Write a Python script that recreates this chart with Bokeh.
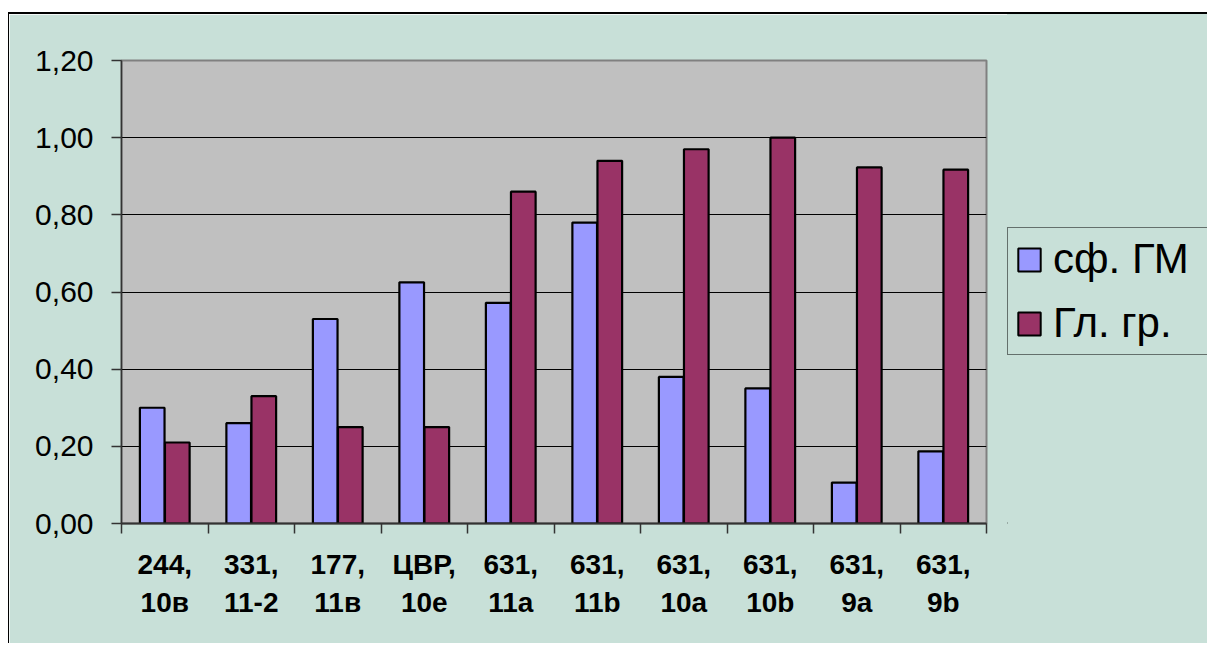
from bokeh.plotting import figure
from bokeh.layouts import row
from bokeh.models import (ColumnDataSource, FixedTicker, CustomJSTickFormatter,
                          Legend, LegendItem, Range1d)
from bokeh.transform import dodge
from bokeh.embed import file_html
from bokeh.resources import INLINE

# ---- data ----
categories = ["244,\n10в", "331,\n11-2", "177,\n11в", "ЦВР,\n10е", "631,\n11a",
              "631,\n11b", "631,\n10a", "631,\n10b", "631,\n9a", "631,\n9b"]
sf_gm = [0.30, 0.26, 0.53, 0.625, 0.572, 0.78, 0.38, 0.35, 0.106, 0.187]
gl_gr = [0.21, 0.33, 0.25, 0.25, 0.86, 0.94, 0.97, 1.00, 0.923, 0.917]
series_names = ["сф. ГМ", "Гл. гр."]
y_ticks = [0.0, 0.2, 0.4, 0.6, 0.8, 1.0, 1.2]

FONT = "Liberation Sans"
BG = "#C8E0D8"
C1 = "#9999FF"
C2 = "#993366"

n = len(categories)
xc = [i + 0.5 for i in range(n)]
src = ColumnDataSource(dict(x=xc, a=sf_gm, b=gl_gr))

# ---- main chart ----
p = figure(width=999, height=631, output_backend="svg", toolbar_location=None,
           x_range=Range1d(0, n), y_range=Range1d(0, 1.2),
           min_border_left=112, min_border_right=22,
           min_border_top=46, min_border_bottom=122)
p.margin = (12, 0, 0, 8)
p.styles = {"border-left": "1px solid black", "border-top": "2px solid black"}

p.background_fill_color = "#C0C0C0"
p.border_fill_color = BG
p.outline_line_color = "#808080"
p.outline_line_width = 2

p.vbar(x=dodge("x", -0.145, range=p.x_range), top="a", width=0.285, source=src,
       fill_color=C1, line_color="black", line_width=2.2)
p.vbar(x=dodge("x", 0.145, range=p.x_range), top="b", width=0.285, source=src,
       fill_color=C2, line_color="black", line_width=2.2)

p.xgrid.visible = False
p.ygrid.ticker = FixedTicker(ticks=y_ticks)
p.ygrid.grid_line_color = "black"
p.ygrid.grid_line_width = 1

ya = p.yaxis[0]
ya.ticker = FixedTicker(ticks=y_ticks)
ya.formatter = CustomJSTickFormatter(code="return tick.toFixed(2).replace('.', ',');")
ya.major_tick_out = 10
ya.major_tick_in = 0
ya.minor_tick_out = 0
ya.minor_tick_in = 0
ya.axis_line_color = "#333333"
ya.axis_line_width = 1.5
ya.major_tick_line_color = "#333333"
ya.major_tick_line_width = 1.5
ya.major_label_standoff = 18
ya.major_label_text_font = FONT
ya.major_label_text_font_size = "30px"
ya.major_label_text_color = "black"

xa = p.xaxis[0]
xa.ticker = FixedTicker(ticks=xc, minor_ticks=list(range(n + 1)))
xa.major_label_overrides = {x: c for x, c in zip(xc, categories)}
xa.major_tick_out = 0
xa.major_tick_in = 0
xa.minor_tick_out = 10
xa.minor_tick_in = 0
xa.minor_tick_line_color = "#333333"
xa.minor_tick_line_width = 1.5
xa.axis_line_color = "#333333"
xa.axis_line_width = 2
xa.major_label_standoff = 15
xa.major_label_text_font = FONT
xa.major_label_text_font_size = "28px"
xa.major_label_text_font_style = "bold"
xa.major_label_text_color = "black"
xa.major_label_text_line_height = 1.25

# ---- legend panel (right strip of the chart area) ----
p2 = figure(width=200, height=631, output_backend="svg", toolbar_location=None,
            x_range=Range1d(0, 1), y_range=Range1d(0, 1),
            x_axis_location=None, y_axis_location=None,
            min_border_left=0, min_border_right=0, min_border_top=0, min_border_bottom=0)
p2.margin = (12, 0, 0, 0)
p2.styles = {"border-top": "2px solid black", "background-color": BG}
p2.background_fill_color = None
p2.border_fill_color = None
p2.outline_line_color = None
for g in p2.xgrid + p2.ygrid:
    g.grid_line_color = None
    g.visible = False

# legend proxies: a single bar placed outside the visible range
proxy = ColumnDataSource(dict(x=[-10], top=[0]))
l1 = p2.vbar(x="x", top="top", width=0.1, source=proxy,
             fill_color=C1, line_color="black", line_width=2)
l2 = p2.vbar(x="x", top="top", width=0.1, source=proxy,
             fill_color=C2, line_color="black", line_width=2)

legend = Legend(items=[LegendItem(label=series_names[0], renderers=[l1]),
                       LegendItem(label=series_names[1], renderers=[l2])],
                location=(0, 168), orientation="vertical")
legend.label_text_font = FONT
legend.label_text_font_size = "42px"
legend.label_text_color = "black"
legend.glyph_width = 28
legend.glyph_height = 29
legend.label_standoff = 10
legend.label_width = 200
legend.spacing = 16
legend.padding = 7
legend.margin = 0
legend.border_line_color = "black"
legend.border_line_width = 1
legend.background_fill_color = BG
legend.background_fill_alpha = 1
p2.add_layout(legend, "center")

layout = row(p, p2)
open("out.html", "w").write(file_html(layout, INLINE))
